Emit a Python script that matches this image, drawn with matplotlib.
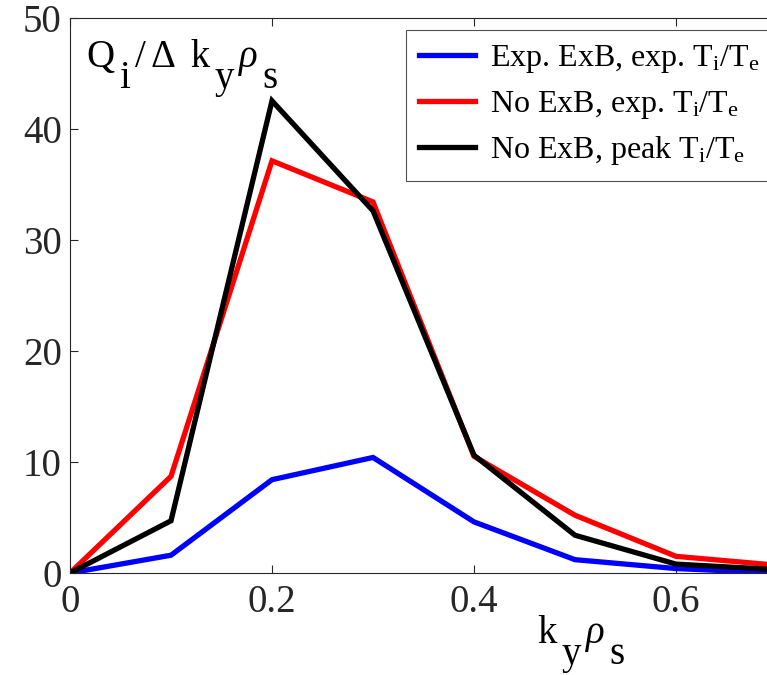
import matplotlib
matplotlib.use("Agg")
import matplotlib.pyplot as plt

plt.rcParams.update({
    "font.family": "Liberation Serif",
    "mathtext.fontset": "custom",
    "mathtext.rm": "Liberation Serif",
    "mathtext.it": "Liberation Serif:italic",
    "mathtext.bf": "Liberation Serif:bold",
})

W, H = 767, 675

ky = [0.0, 0.1, 0.2, 0.3, 0.4, 0.5, 0.6, 0.7]
q_exb_exp = [0.0, 1.6, 8.4, 10.4, 4.6, 1.2, 0.4, 0.0]
q_noexb_exp = [0.0, 8.7, 37.1, 33.4, 10.5, 5.2, 1.5, 0.7]
q_noexb_peak = [0.0, 4.7, 42.5, 32.6, 10.6, 3.4, 0.8, 0.3]

labels = [
    r"Exp. ExB, exp. T$_\mathrm{i}$/T$_\mathrm{e}$",
    r"No ExB, exp. T$_\mathrm{i}$/T$_\mathrm{e}$",
    r"No ExB, peak T$_\mathrm{i}$/T$_\mathrm{e}$",
]
colors = ["#0000ff", "#ff0000", "#000000"]

xticks = [0, 0.2, 0.4, 0.6]
xticklabels = ["0", "0.2", "0.4", "0.6"]
yticks = [0, 10, 20, 30, 40, 50]


def rich(fig, x, y, parts, size, drop, gap=4):
    # MATLAB-style tex: subscripts keep full size and just drop below the baseline
    r = fig.canvas.get_renderer()
    for s, sub, style in parts:
        t = fig.text(x / W, (H - y - (drop if sub else 0)) / H, s, fontsize=size,
                     style=style, ha="left", va="baseline")
        x = t.get_window_extent(r).x1 + gap


fig = plt.figure(figsize=(W / 100, H / 100), dpi=100)
# axes runs past the right edge of the figure, cropped like the original
ax = fig.add_axes([70 / W, 102 / H, 707 / W, 555.5 / H])

for ys, c, lab in zip([q_exb_exp, q_noexb_exp, q_noexb_peak], colors, labels):
    ax.plot(ky, ys, color=c, lw=3.8, label=lab, solid_joinstyle="miter")

ax.set_xlim(0, 0.7)
ax.set_ylim(0, 50)
ax.set_xticks(xticks)
ax.set_xticklabels(xticklabels)
ax.set_yticks(yticks)
for s in ax.spines.values():
    s.set_linewidth(0.8)
    s.set_color("#262626")
ax.tick_params(direction="in", length=6, width=0.8, top=True, right=True,
               labelsize=28, colors="#262626", pad=8)
ax.tick_params(axis="y", pad=6)

leg = ax.legend(loc="upper left", bbox_to_anchor=(336 / 707, 1 - 12.5 / 555.5),
                fontsize=23, frameon=True, fancybox=False, handlelength=1.75,
                handletextpad=0.45, borderpad=0.42, labelspacing=0.42,
                borderaxespad=0)
leg.get_frame().set_edgecolor("#262626")
leg.get_frame().set_linewidth(0.8)

rich(fig, 86, 67, [("Q", 0, "normal"), ("i", 1, "normal"), ("/", 0, "normal"),
                   ("Δ", 0, "normal"), (" k", 0, "normal"), ("y", 1, "normal"),
                   ("ρ", 0, "italic"), ("s", 1, "normal")], 28, 21, gap=5)
rich(fig, 537, 643, [("k", 0, "normal"), ("y", 1, "normal"),
                     ("ρ", 0, "italic"), ("s", 1, "normal")], 28, 21, gap=5)

fig.savefig("out.png", dpi=100)
